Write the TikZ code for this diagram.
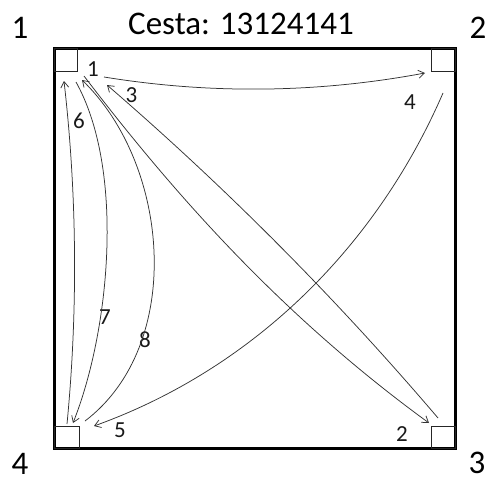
\documentclass[tikz,border=0pt]{standalone}
\usepackage{fontspec}
\setmainfont{Carlito}
\usetikzlibrary{arrows.meta}
\begin{document}
\begin{tikzpicture}[x=1pt,y=-1pt,
  frame/.style={draw=black,line width=3.3pt},
  cell/.style={draw=black!85,line width=0.9pt,inner sep=0pt},
  conn/.style={draw=black!80,line width=0.75pt,-{Straight Barb[length=6pt,width=8pt]}},
  big/.style={font=\fontsize{33}{38}\selectfont,inner sep=0pt},
  small/.style={font=\fontsize{23}{27}\selectfont,inner sep=0pt,text=black!90}]
\useasboundingbox (0,0) rectangle (487,482);
% frame
\draw[frame] (54.3,48.5) rectangle (455.5,448.5);
% corner cells
\node[cell,minimum width=23pt,minimum height=23.5pt] (c1) at (65.5,60) {};
\node[cell,minimum width=23.5pt,minimum height=23.5pt] (c2) at (443.5,60) {};
\node[cell,minimum width=23.5pt,minimum height=22pt] (c3) at (443.5,437) {};
\node[cell,minimum width=25.5pt,minimum height=22pt] (c4) at (67,437) {};
% corner labels and title
\node[big] (n1) at (20,28) {1};
\node[big] (n2) at (478,28) {2};
\node[big] (n3) at (477,463) {3};
\node[big] (n4) at (20,464) {4};
\node[big] (title) at (241,24) {Cesta: 13124141};
% step labels
\node[small] (s1) at (93,69) {1};
\node[small] (s3) at (131.5,95.5) {3};
\node[small] (s4) at (410,102) {4};
\node[small] (s6) at (79,120.5) {6};
\node[small] (s7) at (105,317) {7};
\node[small] (s8) at (145,340) {8};
\node[small] (s5) at (120,430) {5};
\node[small] (s2) at (402,434) {2};
% connector endpoints
\coordinate (a12s) at (104,77);
\coordinate (a12e) at (425,73);
\coordinate (a13s) at (84,76);
\coordinate (a13e) at (429,423);
\coordinate (a31s) at (438,418);
\coordinate (a31e) at (107,85);
\coordinate (a24s) at (443,93);
\coordinate (a24e) at (94,426);
\coordinate (a41s) at (67,424);
\coordinate (a41e) at (64,81);
\coordinate (b14s) at (76,82);
\coordinate (b14e) at (73,423);
\coordinate (b41s) at (85,421);
\coordinate (b41e) at (82,80);
% connectors
\draw[conn] (a12s) .. controls (211,94.4) and (318,93) .. (a12e);
\draw[conn] (a13s) .. controls (174,194) and (282,316) .. (a13e);
\draw[conn] (a31s) .. controls (336.2,298.5) and (225.8,187.5) .. (a31e);
\draw[conn] (a24s) .. controls (375,250) and (250,370) .. (a24e);
\draw[conn] (a41s) .. controls (78,310) and (77,195) .. (a41e);
\draw[conn] (b14s) .. controls (125,170) and (110,330) .. (b14e);
\draw[conn] (b41s) .. controls (185,345) and (170,165) .. (b41e);
\end{tikzpicture}
\end{document}
